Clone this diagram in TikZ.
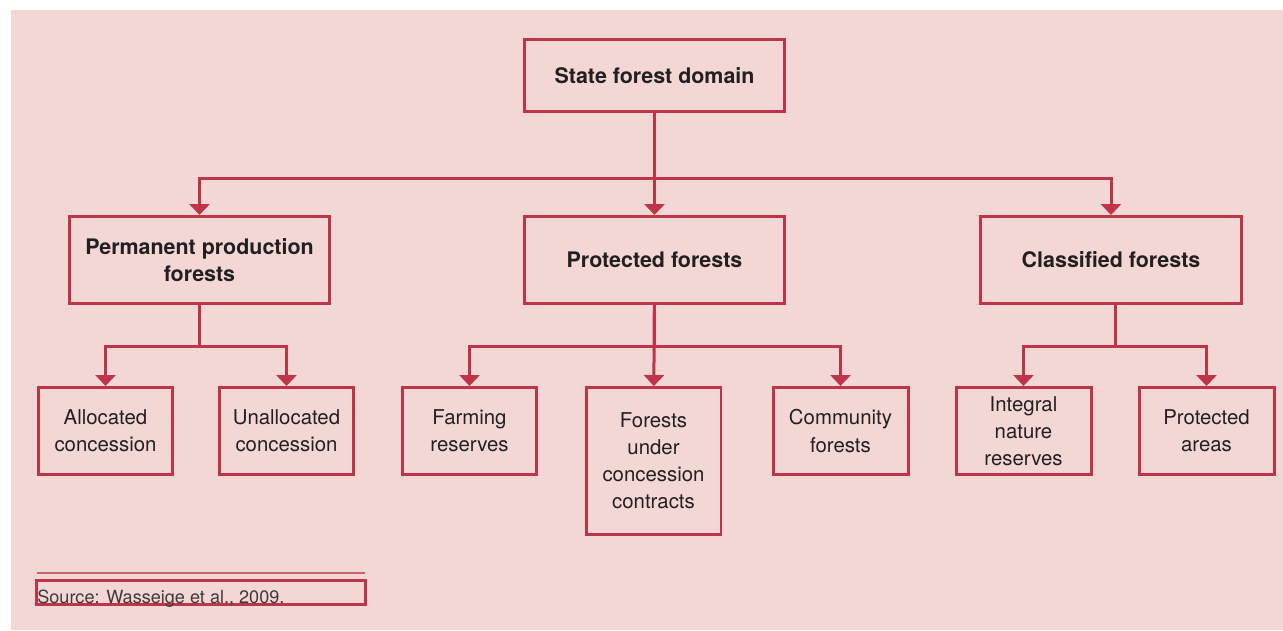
\documentclass[tikz,border=0pt]{standalone}
\usepackage{fontspec}
\setmainfont{TeX Gyre Heros}
\usetikzlibrary{arrows.meta}

\definecolor{bgpink}{HTML}{F2D7D5}
\definecolor{linkred}{HTML}{BE3448}
\definecolor{ruleline}{HTML}{C9616F}
\definecolor{inktext}{HTML}{231F20}
\definecolor{srctext}{HTML}{3C3A3B}

\begin{document}
\begin{tikzpicture}[
  x=0.02cm, y=-0.02cm,
  box/.style={draw=linkred, line width=0.06cm, align=center, text=inktext,
    inner sep=2pt, font=\fontsize{11.6}{15.4}\selectfont},
  headbox/.style={box, minimum width=5.22cm, minimum height=1.74cm,
    font=\fontsize{12.2}{15.4}\selectfont\bfseries},
  rootbox/.style={headbox, minimum height=1.44cm},
  leafbox/.style={box, minimum width=2.7cm, minimum height=1.74cm},
  tallbox/.style={leafbox, minimum height=2.94cm},
  arr/.style={draw=linkred, line width=0.06cm,
    -{Triangle[width=0.4cm,length=0.22cm]}}
]
  % Background and frame
  \useasboundingbox (0,0) rectangle (1283,630);
  \fill[bgpink] (11,10) rectangle (1283,630);

  % Top level
  \node[rootbox] (domain) at (654.5,75.5) {State forest domain};

  % Second level
  \node[headbox] (perm) at (199.5,260) {Permanent production\\forests};
  \node[headbox] (prot) at (654.5,260) {Protected forests};
  \node[headbox] (class) at (1111,260) {Classified forests};

  % Third level
  \node[leafbox] (alloc) at (105.5,431) {Allocated\\concession};
  \node[leafbox] (unalloc) at (286.5,431) {Unallocated\\concession};
  \node[leafbox] (farm) at (469.5,431) {Farming\\reserves};
  \node[tallbox] (under) at (653.5,461) {Forests\\under\\concession\\contracts};
  \node[leafbox] (comm) at (840.5,431) {Community\\forests};
  \node[leafbox] (integ) at (1023.5,431) {Integral\\nature\\reserves};
  \node[leafbox] (parea) at (1206.5,431) {Protected\\areas};

  % Links from the domain
  \draw[arr] (domain) -- (prot);
  \draw[arr] (domain.south) -- ++(0,65) -| (perm);
  \draw[arr] (domain.south) -- ++(0,65) -| (class);

  % Links to the third level
  \draw[arr] (perm.south) -- ++(0,41) -| (alloc);
  \draw[arr] (perm.south) -- ++(0,41) -| (unalloc);
  \draw[arr] (prot) -- (under);
  \draw[arr] (prot.south) -- ++(0,41) -| (farm);
  \draw[arr] (prot.south) -- ++(0,41) -| (comm);
  \draw[arr] ([xshift=0.08cm]class.south) -- ++(0,41) -| (integ);
  \draw[arr] ([xshift=0.08cm]class.south) -- ++(0,41) -| (parea);

  % Source note
  \draw[ruleline, line width=0.04cm] (37,573) -- (365,573);
  \node[draw=linkred, line width=0.06cm, minimum width=6.6cm,
    minimum height=0.48cm, inner sep=0pt] (srcframe) at (201,592.5) {};
  \node[anchor=base west, inner sep=0pt, text=srctext,
    font=\fontsize{10.3}{12}\selectfont] (source) at (37,603)
    {Source: Wasseige et al., 2009.};
\end{tikzpicture}
\end{document}
